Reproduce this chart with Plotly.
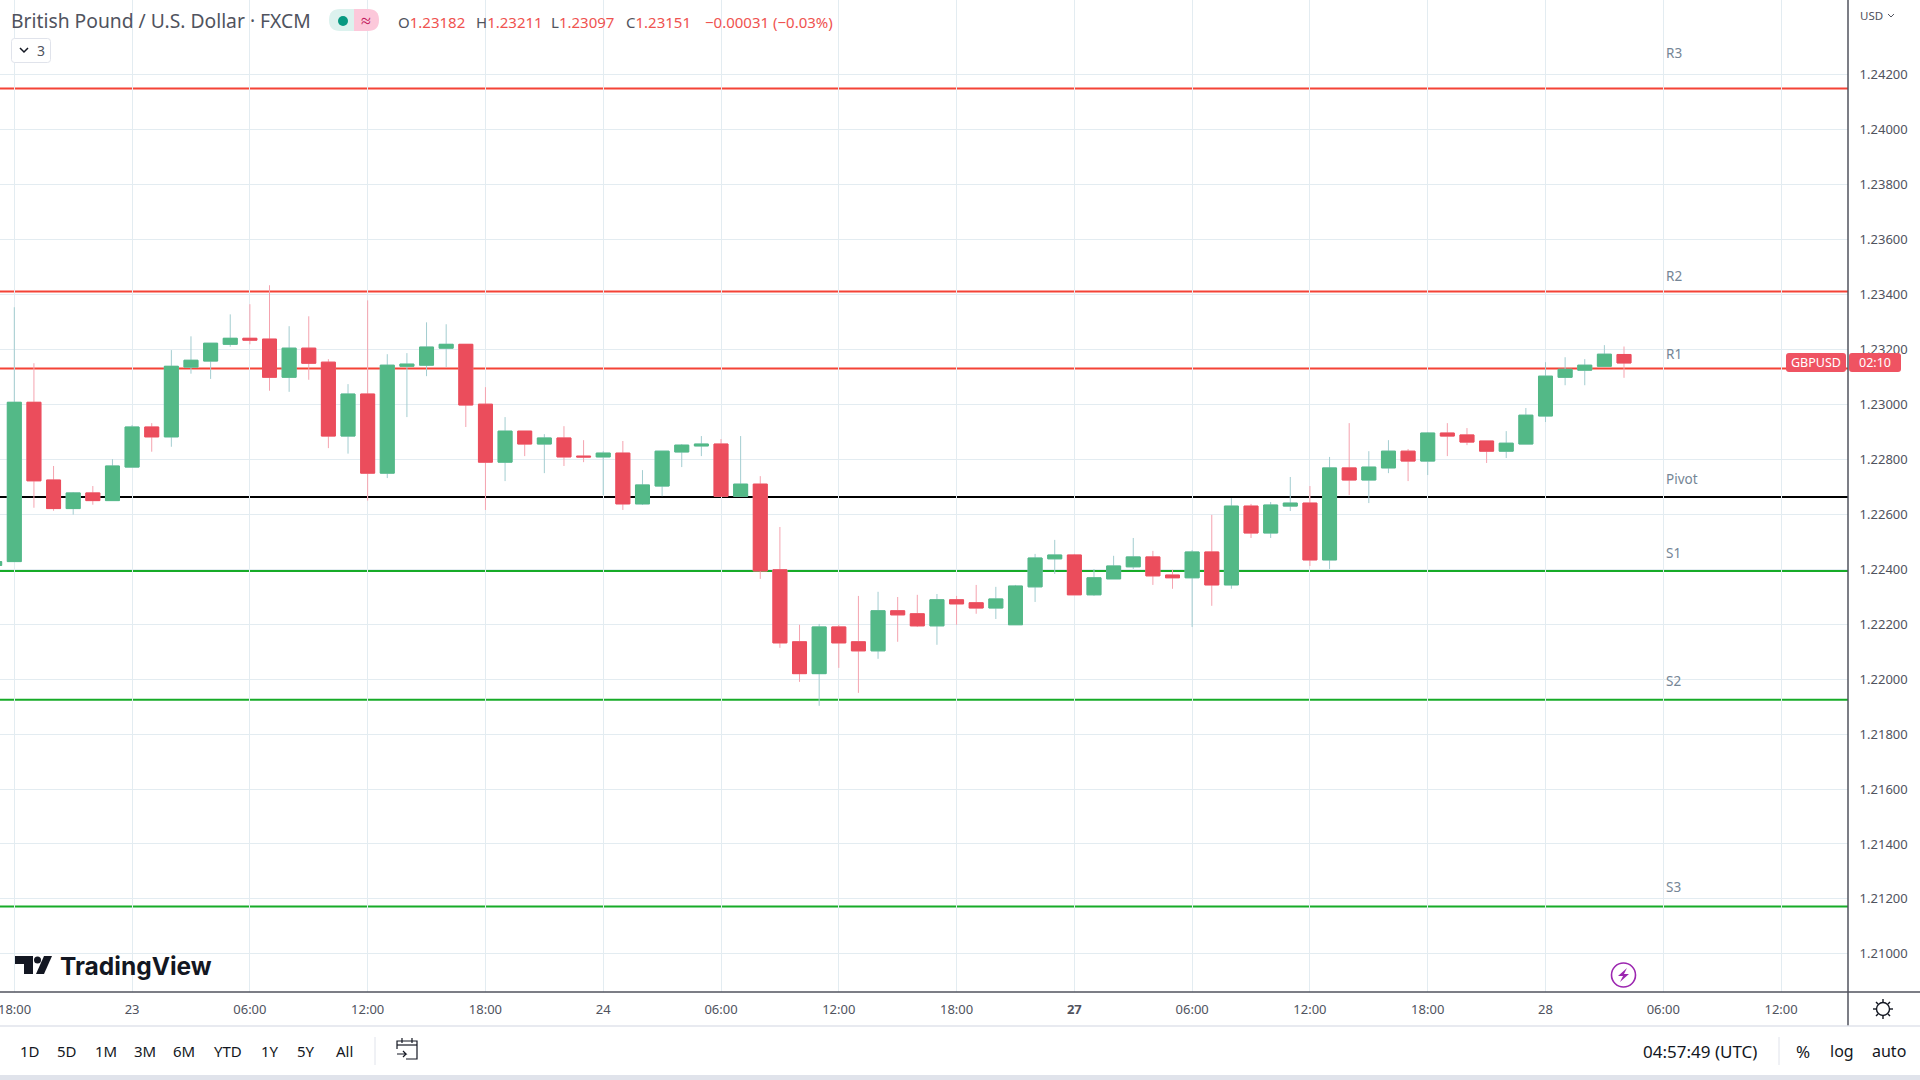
import plotly.graph_objects as go

# hourly GBP/USD candles, first one is cut off by the left edge
opens = [1.22414, 1.22428, 1.23008, 1.22725, 1.22621, 1.22678, 1.22650, 1.22772, 1.22918, 1.22882,
         1.23136, 1.23158, 1.23219, 1.23241, 1.23238, 1.23099, 1.23205, 1.23154, 1.22885, 1.23038,
         1.22750, 1.23139, 1.23143, 1.23205, 1.23219, 1.23001, 1.22790, 1.22903, 1.22856, 1.22878,
         1.22812, 1.22809, 1.22823, 1.22638, 1.22703, 1.22827, 1.22849, 1.22856, 1.22666, 1.22710,
         1.22398, 1.22136, 1.22020, 1.22190, 1.22136, 1.22103, 1.22249, 1.22238, 1.22194, 1.22289,
         1.22278, 1.22259, 1.22198, 1.22336, 1.22438, 1.22452, 1.22307, 1.22365, 1.22409, 1.22445,
         1.22379, 1.22369, 1.22463, 1.22343, 1.22630, 1.22532, 1.22630, 1.22641, 1.22434, 1.22769,
         1.22725, 1.22769, 1.22830, 1.22794, 1.22896, 1.22889, 1.22867, 1.22830, 1.22856, 1.22958,
         1.23099, 1.23125, 1.23139, 1.23182]
highs = [1.22428, 1.23354, 1.23150, 1.22776, 1.22681, 1.22703, 1.22801, 1.22925, 1.22932, 1.23198,
         1.23248, 1.23223, 1.23328, 1.23365, 1.23434, 1.23285, 1.23321, 1.23165, 1.23074, 1.23379,
         1.23183, 1.23187, 1.23299, 1.23292, 1.23219, 1.23063, 1.22954, 1.22903, 1.22892, 1.22921,
         1.22870, 1.22830, 1.22867, 1.22761, 1.22830, 1.22856, 1.22885, 1.22874, 1.22885, 1.22739,
         1.22554, 1.22198, 1.22201, 1.22198, 1.22303, 1.22318, 1.22299, 1.22307, 1.22310, 1.22303,
         1.22343, 1.22336, 1.22343, 1.22456, 1.22507, 1.22456, 1.22401, 1.22449, 1.22514, 1.22467,
         1.22398, 1.22470, 1.22598, 1.22659, 1.22638, 1.22645, 1.22736, 1.22703, 1.22809, 1.22932,
         1.22830, 1.22870, 1.22838, 1.22899, 1.22932, 1.22914, 1.22867, 1.22903, 1.22987, 1.23154,
         1.23172, 1.23165, 1.23216, 1.23211]
lows = [1.22414, 1.22428, 1.22624, 1.22613, 1.22599, 1.22635, 1.22650, 1.22772, 1.22828, 1.22846,
        1.23112, 1.23093, 1.23210, 1.23219, 1.23050, 1.23046, 1.23090, 1.22841, 1.22821, 1.22650,
        1.22732, 1.22954, 1.23103, 1.23136, 1.22918, 1.22616, 1.22721, 1.22812, 1.22750, 1.22776,
        1.22790, 1.22670, 1.22616, 1.22634, 1.22666, 1.22772, 1.22812, 1.22666, 1.22666, 1.22365,
        1.22114, 1.21990, 1.21903, 1.22041, 1.21950, 1.22074, 1.22136, 1.22190, 1.22125, 1.22198,
        1.22238, 1.22219, 1.22198, 1.22281, 1.22383, 1.22307, 1.22303, 1.22365, 1.22401, 1.22343,
        1.22329, 1.22190, 1.22267, 1.22329, 1.22514, 1.22514, 1.22612, 1.22412, 1.22401, 1.22670,
        1.22641, 1.22750, 1.22721, 1.22743, 1.22812, 1.22852, 1.22787, 1.22805, 1.22856, 1.22936,
        1.23070, 1.23070, 1.23139, 1.23097]
closes = [1.22428, 1.23008, 1.22722, 1.22621, 1.22678, 1.22650, 1.22776, 1.22918, 1.22882, 1.23139,
          1.23161, 1.23223, 1.23241, 1.23234, 1.23099, 1.23205, 1.23150, 1.22885, 1.23038, 1.22750,
          1.23143, 1.23147, 1.23209, 1.23219, 1.22998, 1.22790, 1.22903, 1.22856, 1.22878, 1.22809,
          1.22809, 1.22823, 1.22638, 1.22707, 1.22830, 1.22852, 1.22856, 1.22666, 1.22710, 1.22394,
          1.22132, 1.22020, 1.22190, 1.22132, 1.22103, 1.22249, 1.22234, 1.22194, 1.22289, 1.22274,
          1.22259, 1.22292, 1.22339, 1.22441, 1.22452, 1.22307, 1.22369, 1.22412, 1.22445, 1.22376,
          1.22369, 1.22463, 1.22343, 1.22630, 1.22532, 1.22634, 1.22641, 1.22434, 1.22769, 1.22725,
          1.22772, 1.22830, 1.22794, 1.22896, 1.22885, 1.22863, 1.22830, 1.22859, 1.22961, 1.23103,
          1.23128, 1.23143, 1.23183, 1.23151]
bars = list(range(-1, len(opens) - 1))

level_names = ['R3', 'R2', 'R1', 'Pivot', 'S1', 'S2', 'S3']
level_prices = [1.24150, 1.23411, 1.23131, 1.22663, 1.22394, 1.21925, 1.21172]
level_colors = ['#f44336', '#f44336', '#f44336', '#000000', '#17ab28', '#17ab28', '#17ab28']
level_label_prices = [1.24279, 1.23468, 1.23182, 1.22727, 1.22461, 1.21995, 1.21243]

price_ticks = [1.21, 1.212, 1.214, 1.216, 1.218, 1.22, 1.222, 1.224, 1.226, 1.228,
               1.23, 1.232, 1.234, 1.236, 1.238, 1.24, 1.242]
time_ticks = [0, 6, 12, 18, 24, 30, 36, 42, 48, 54, 60, 66, 72, 78, 84, 90]
time_labels = ['18:00', '23', '06:00', '12:00', '18:00', '24', '06:00', '12:00', '18:00',
               '<b>27</b>', '06:00', '12:00', '18:00', '28', '06:00', '12:00']
range_buttons = ['1D', '5D', '1M', '3M', '6M', 'YTD', '1Y', '5Y', 'All']
range_button_x = [30, 67, 106, 145, 184, 228, 270, 306, 344]

UP = '#53b987'
DOWN = '#eb4d5c'
TEXT = '#50535e'
DARK = '#131722'
FONT = 'Noto Sans'
PLOT_W = 1848
PLOT_H = 992


def px(x):
    return x / PLOT_W


def py(y):
    return 1 - y / PLOT_H


def path(points, close=False):
    s = 'M ' + ' L '.join(f'{px(x):.5f} {py(y):.5f}' for x, y in points)
    return s + ' Z' if close else s


def round_rect(x0, y0, x1, y1, r, left=True, right=True):
    pts = 'M %.5f %.5f ' % (px(x0 + (r if left else 0)), py(y0))
    pts += 'L %.5f %.5f ' % (px(x1 - (r if right else 0)), py(y0))
    if right:
        pts += 'Q %.5f %.5f %.5f %.5f ' % (px(x1), py(y0), px(x1), py(y0 + r))
        pts += 'L %.5f %.5f ' % (px(x1), py(y1 - r))
        pts += 'Q %.5f %.5f %.5f %.5f ' % (px(x1), py(y1), px(x1 - r), py(y1))
    else:
        pts += 'L %.5f %.5f ' % (px(x1), py(y1))
    pts += 'L %.5f %.5f ' % (px(x0 + (r if left else 0)), py(y1))
    if left:
        pts += 'Q %.5f %.5f %.5f %.5f ' % (px(x0), py(y1), px(x0), py(y1 - r))
        pts += 'L %.5f %.5f ' % (px(x0), py(y0 + r))
        pts += 'Q %.5f %.5f %.5f %.5f ' % (px(x0), py(y0), px(x0 + r), py(y0))
    return pts + 'Z'


fig = go.Figure()

# wicks first, then the bodies on top with their whiskers collapsed
fig.add_trace(go.Candlestick(
    x=bars, open=opens, high=highs, low=lows, close=closes,
    increasing=dict(line=dict(color='#a3cdd0', width=1), fillcolor='#a3cdd0'),
    decreasing=dict(line=dict(color='#f5a3af', width=1), fillcolor='#f5a3af'),
    hoverinfo='skip', showlegend=False))
fig.add_trace(go.Candlestick(
    x=bars, open=opens, close=closes,
    high=[max(o, c) for o, c in zip(opens, closes)],
    low=[min(o, c) for o, c in zip(opens, closes)],
    increasing=dict(line=dict(color=UP, width=1), fillcolor=UP),
    decreasing=dict(line=dict(color=DOWN, width=1), fillcolor=DOWN),
    showlegend=False))

for price, color in zip(level_prices, level_colors):
    fig.add_hline(y=price, line=dict(color=color, width=2), layer='below')

for name, price in zip(level_names, level_label_prices):
    fig.add_annotation(x=84.05, y=price, xref='x', yref='y', text=name, showarrow=False,
                       xanchor='left', yanchor='middle',
                       font=dict(family=FONT, size=13.5, color='#758696'))


def label(x, y, text, size=13, color=TEXT, anchor='left', family=FONT):
    fig.add_annotation(x=px(x), y=py(y), xref='paper', yref='paper', text=text, showarrow=False,
                       xanchor=anchor, yanchor='middle', font=dict(family=family, size=size, color=color),
                       borderpad=0, borderwidth=0)


def shape_path(d, fill=None, line=None, width=1):
    fig.add_shape(type='path', path=d, xref='paper', yref='paper', fillcolor=fill,
                  line=dict(color=line, width=width if line else 0))


def rect(x0, y0, x1, y1, fill):
    fig.add_shape(type='rect', xref='paper', yref='paper', x0=px(x0), x1=px(x1), y0=py(y1), y1=py(y0),
                  fillcolor=fill, line=dict(width=0))


def rule(x0, y0, x1, y1, color, width=1):
    fig.add_shape(type='line', xref='paper', yref='paper', x0=px(x0), x1=px(x1), y0=py(y0), y1=py(y1),
                  line=dict(color=color, width=width))


def ring(cx, cy, r, color, width=1.5):
    fig.add_shape(type='circle', xref='paper', yref='paper', x0=px(cx - r), x1=px(cx + r),
                  y0=py(cy + r), y1=py(cy - r), line=dict(color=color, width=width))


# frame around the plot
rule(0, 992, 1920, 992, TEXT, 1.5)
rule(1848, 0, 1848, 1026, TEXT, 1.5)
rule(0, 1026, 1920, 1026, '#e0e3eb', 1.5)
rect(0, 1075, 1920, 1080, '#e0e3eb')

# plotly drops the first tick label because it runs past the edge
label(14.3, 1009, time_labels[0], anchor='center')

# header
label(11, 21, 'British Pound / U.S. Dollar · FXCM', size=19.3)
shape_path(round_rect(329, 9, 354, 31, 11, right=False), fill='#dcf2ee')
shape_path(round_rect(354, 9, 379, 31, 11, left=False), fill='#fcc8da')
fig.add_shape(type='circle', xref='paper', yref='paper', x0=px(338), x1=px(348), y0=py(26), y1=py(16),
              fillcolor='#089981', line=dict(width=0))
label(365.5, 20, '≈', size=18, color='#c2185b', anchor='center')
red = 'style="color:#ef5350"'
label(398, 22, f'O<span {red}>1.23182</span>', size=15)
label(476, 22, f'H<span {red}>1.23211</span>', size=15)
label(551, 22, f'L<span {red}>1.23097</span>', size=15)
label(626, 22, f'C<span {red}>1.23151</span>', size=15)
label(705, 22, '−0.00031 (−0.03%)', size=15, color='#ef5350')

shape_path(round_rect(11.5, 38.5, 50.5, 62.5, 3), fill='#ffffff', line='#e0e3eb', width=1)
shape_path(path([(20, 48), (24, 52), (28, 48)]), line=DARK, width=1.5)
label(37, 50, '3', size=14)

# USD selector
label(1860, 15, 'USD', size=11.5)
shape_path(path([(1888, 14), (1891, 17), (1894, 14)]), line=TEXT, width=1)

# current price tag
shape_path(round_rect(1786, 353, 1846, 372, 3), fill='#ef5362')
shape_path(round_rect(1849, 353, 1901, 372, 3), fill='#ef5362')
label(1816, 362.5, 'GBPUSD', size=12.5, color='#ffffff', anchor='center')
label(1875, 362.5, '02:10', size=12.5, color='#ffffff', anchor='center')

# logo
shape_path(path([(15, 956), (33, 956), (33, 974), (24, 974), (24, 964), (15, 964)], close=True), fill=DARK)
fig.add_shape(type='circle', xref='paper', yref='paper', x0=px(34), x1=px(41), y0=py(963.5), y1=py(956.5),
              fillcolor=DARK, line=dict(width=0))
shape_path(path([(44, 956), (52, 956), (44, 974), (36, 974)], close=True), fill=DARK)
label(60, 966, '<b>TradingView</b>', size=24.5, color=DARK, family='Inter')

# lightning badge
ring(1623.5, 975, 12, '#9c27b0', 1.6)
shape_path(path([(1627, 968), (1618, 976), (1623, 976), (1620, 982), (1629, 974), (1624, 974)], close=True),
           fill='#9c27b0')

# gear
ring(1883, 1009, 6.5, DARK, 1.4)
for a, b, c, d in [(1883, 999, 1883, 1002), (1883, 1016, 1883, 1019), (1873, 1009, 1876, 1009),
                   (1890, 1009, 1893, 1009), (1876, 1002, 1878, 1004), (1888, 1014, 1890, 1016),
                   (1890, 1002, 1888, 1004), (1878, 1014, 1876, 1016)]:
    rule(a, b, c, d, DARK, 1.4)

# bottom toolbar
for text, x in zip(range_buttons, range_button_x):
    label(x, 1051, text, size=15, color=DARK, anchor='center')
rule(375, 1037, 375, 1065, '#e0e3eb')
shape_path(path([(397, 1049), (397, 1041), (417, 1041), (417, 1059), (406, 1059)]), line=DARK, width=1.2)
shape_path(path([(397, 1045), (417, 1045)]), line=DARK, width=1.2)
shape_path(path([(402, 1038), (402, 1043)]), line=DARK, width=1.2)
shape_path(path([(412, 1038), (412, 1043)]), line=DARK, width=1.2)
shape_path(path([(397, 1054), (406, 1054), (403, 1051)]), line=DARK, width=1.2)
shape_path(path([(406, 1054), (403, 1057)]), line=DARK, width=1.2)

label(1700, 1051, '04:57:49 (UTC)', size=17, color=DARK, anchor='center')
rule(1779, 1037, 1779, 1065, '#e0e3eb')
label(1803, 1051, '%', size=17, color=DARK, anchor='center')
label(1842, 1051, 'log', size=16, color=DARK, anchor='center')
label(1889, 1051, 'auto', size=16, color=DARK, anchor='center')

fig.update_layout(
    width=1920, height=1080, autosize=False,
    margin=dict(l=0, r=72, t=0, b=88, pad=0),
    paper_bgcolor='#ffffff', plot_bgcolor='#ffffff',
    showlegend=False, boxmode='overlay', boxgap=0.287, boxgroupgap=0,
    hovermode=False,
)
fig.update_xaxes(
    range=[-0.7285, 93.41], rangeslider_visible=False,
    tickmode='array', tickvals=time_ticks, ticktext=time_labels,
    showgrid=True, gridcolor='#e3ecf1', gridwidth=1, zeroline=False, showline=False,
    ticks='outside', ticklen=5, tickcolor='rgba(0,0,0,0)',
    tickfont=dict(family=FONT, size=13, color=TEXT),
)
fig.update_yaxes(
    range=[1.20861, 1.244725], side='right',
    tickmode='array', tickvals=price_ticks, tickformat='.5f',
    showgrid=True, gridcolor='#e3ecf1', gridwidth=1, zeroline=False, showline=False,
    ticks='outside', ticklen=8, tickcolor='rgba(0,0,0,0)',
    tickfont=dict(family=FONT, size=13, color=TEXT),
)

fig.write_html("out.html", post_script="document.body.style.margin='0';",
               config={'displayModeBar': False})
